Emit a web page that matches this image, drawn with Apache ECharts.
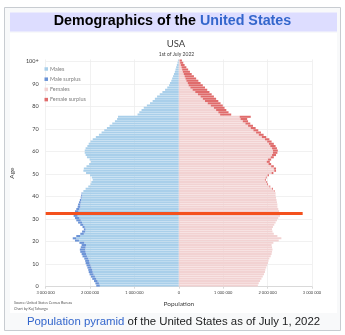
<!DOCTYPE html>
<html><head><meta charset="utf-8">
<script src="https://cdn.jsdelivr.net/npm/echarts@6/dist/echarts.min.js"></script>
<style>html,body{margin:0;padding:0;background:#fff}#c{width:345px;height:335px}</style>
</head><body><div id="c"></div>
<script>
// Age categories 0 .. 100+
const ages = ['0','1','2','3','4','5','6','7','8','9','10','11','12','13','14','15','16','17','18','19',
'20','21','22','23','24','25','26','27','28','29','30','31','32','33','34','35','36','37','38','39',
'40','41','42','43','44','45','46','47','48','49','50','51','52','53','54','55','56','57','58','59',
'60','61','62','63','64','65','66','67','68','69','70','71','72','73','74','75','76','77','78','79',
'80','81','82','83','84','85','86','87','88','89','90','91','92','93','94','95','96','97','98','99','100+'];

// Population by single year of age (persons)
const males = [
1860000,1880000,1910000,1950000,1980000,2010000,2030000,2040000,2060000,2080000,
2100000,2110000,2130000,2170000,2190000,2220000,2230000,2210000,2190000,2240000,
2340000,2390000,2310000,2220000,2180000,2140000,2170000,2220000,2270000,2310000,
2340000,2370000,2380000,2340000,2310000,2280000,2270000,2250000,2230000,2210000,
2200000,2190000,2150000,2100000,2040000,1990000,1970000,1940000,1960000,2000000,
2090000,2150000,2140000,2080000,2020000,1980000,2010000,2070000,2100000,2120000,
2120000,2100000,2060000,2030000,1990000,1940000,1870000,1800000,1740000,1680000,
1620000,1560000,1500000,1440000,1390000,1370000,930000,890000,840000,790000,
720000,650000,590000,540000,490000,430000,370000,310000,260000,220000,
200000,170000,150000,130000,110000,90000,75000,60000,45000,30000,20000];

const females = [
1780000,1800000,1830000,1860000,1890000,1920000,1940000,1950000,1970000,1990000,
2010000,2020000,2040000,2070000,2090000,2100000,2110000,2100000,2090000,2130000,
2250000,2310000,2220000,2140000,2110000,2100000,2120000,2150000,2180000,2210000,
2240000,2280000,2290000,2260000,2240000,2220000,2220000,2210000,2200000,2190000,
2180000,2180000,2160000,2120000,2060000,2010000,1990000,1960000,1980000,2030000,
2130000,2190000,2190000,2140000,2080000,2050000,2080000,2140000,2190000,2220000,
2230000,2210000,2180000,2140000,2090000,2040000,1970000,1910000,1850000,1790000,
1730000,1670000,1610000,1560000,1540000,1620000,1180000,1120000,1070000,1030000,
990000,940000,890000,840000,790000,740000,690000,640000,590000,540000,
490000,440000,390000,340000,290000,250000,210000,170000,130000,100000,70000];

// Tick labels
const xTickValues = [-3000000,-2000000,-1000000,0,1000000,2000000,3000000];
const xTickLabels = ['3 000 000','2 000 000','1 000 000','0','1 000 000','2 000 000','3 000 000'];
const yTickValues = [0,10,20,30,40,50,60,70,80,90,100];
const yTickLabels = ['0','10','20','30','40','50','60','70','80','90','100+'];

// Highlight line (age 32)
const markerAge = '32';
const markerFrom = -3000000;
const markerTo = 2790000;

const common = males.map((m, i) => Math.min(m, females[i]));
const maleBase = common.map(v => -v);
const maleSurplus = males.map((m, i) => -(m - common[i]));
const femaleBase = common.slice();
const femaleSurplus = females.map((f, i) => f - common[i]);

const chart = echarts.init(document.getElementById('c'), null, {renderer: 'canvas'});
const fontUI = 'Lato, "Open Sans", sans-serif';
const fontArial = '"Liberation Sans", Arial, sans-serif';

const barCommon = {type: 'bar', stack: 'pop', yAxisIndex: 0, barCategoryGap: '8%', silent: true};

chart.setOption({
  animation: false,
  graphic: [
    {type: 'rect', z: -20, silent: true, shape: {x: 4.5, y: 7.5, width: 336, height: 323}, style: {fill: '#f8f9fa', stroke: '#c8ccd1', lineWidth: 1}},
    {type: 'rect', z: -19, silent: true, shape: {x: 10, y: 12.5, width: 327, height: 19}, style: {fill: '#ddddff'}},
    {type: 'rect', z: -19, silent: true, shape: {x: 10, y: 33, width: 327, height: 280}, style: {fill: '#ffffff'}}
  ],
  title: [
    {text: '{a|Demographics of the }{b|United States}', left: 'center', top: 13.5, padding: 0,
     textStyle: {rich: {a: {fontFamily: fontArial, fontWeight: 'bold', fontSize: 14.3, color: '#000', lineHeight: 16},
                        b: {fontFamily: fontArial, fontWeight: 'bold', fontSize: 14.3, color: '#3366cc', lineHeight: 16}}}},
    {text: 'USA', left: 176, textAlign: 'center', top: 38.5, padding: 0,
     textStyle: {fontFamily: fontUI, fontSize: 9.5, fontWeight: 'normal', color: '#404040', lineHeight: 11}},
    {text: '1st of July 2022', left: 176.5, textAlign: 'center', top: 51, padding: 0,
     textStyle: {fontFamily: fontUI, fontSize: 5, fontWeight: 'normal', color: '#404040', lineHeight: 6}},
    {text: 'Source: United States Census Bureau\nChart by Kuj Tahunga', left: 14, top: 300.5, padding: 0,
     textStyle: {fontFamily: fontUI, fontSize: 3.6, fontWeight: 'normal', color: '#595959', lineHeight: 5.5}},
    {text: '{a|Population pyramid}{b| of the United States as of July 1, 2022}', left: 173.5, textAlign: 'center', top: 314.5, padding: 0,
     textStyle: {fontWeight: 'normal',
       rich: {a: {fontFamily: fontArial, fontWeight: 'normal', fontSize: 11.4, color: '#3366cc', lineHeight: 14},
              b: {fontFamily: fontArial, fontWeight: 'normal', fontSize: 11.4, color: '#202122', lineHeight: 14}}}}
  ],
  legend: {
    orient: 'vertical', left: 44.5, top: 65.5, padding: 0, itemGap: 3.2,
    itemWidth: 3.5, itemHeight: 3.5, icon: 'rect', selectedMode: false,
    textStyle: {fontFamily: fontUI, fontSize: 5.5, lineHeight: 7, color: '#808080', padding: [0, 0, 0, -3]},
    data: ['Males', 'Male surplus', 'Females', 'Female surplus']
  },
  grid: {left: 39, right: 33, top: 59.4, bottom: 48.3, containLabel: false},
  xAxis: {
    type: 'value', min: xTickValues[0], max: xTickValues[xTickValues.length - 1],
    interval: xTickValues[1] - xTickValues[0],
    axisLine: {show: true, onZero: false, lineStyle: {color: '#d9d9d9', width: 1}},
    axisTick: {show: true, length: 2, lineStyle: {color: '#d9d9d9'}},
    axisLabel: {fontFamily: fontUI, fontSize: 4, color: '#404040', margin: 4,
      formatter: v => { const i = xTickValues.indexOf(v); return i >= 0 ? xTickLabels[i] : ''; }},
    splitLine: {show: true, lineStyle: {color: '#ededed', width: 0.8}},
    name: 'Population', nameLocation: 'middle', nameGap: 14,
    nameTextStyle: {fontFamily: fontUI, fontSize: 6.5, color: '#404040'}
  },
  yAxis: [
    {type: 'category', data: ages, position: 'right', show: false, boundaryGap: true},
    {type: 'value', position: 'left', min: 0, max: 101, interval: 10,
     axisLine: {show: false}, axisTick: {show: false},
     axisLabel: {fontFamily: fontUI, fontSize: 5.5, color: '#404040', margin: 7,
       formatter: v => { const i = yTickValues.indexOf(v); return i >= 0 ? yTickLabels[i] : ''; }},
     splitLine: {show: true, showMaxLine: false, lineStyle: {color: '#ededed', width: 0.8}},
     name: 'Age', nameLocation: 'middle', nameGap: 17, nameRotate: 90,
     nameTextStyle: {fontFamily: fontUI, fontSize: 6.5, color: '#404040'}}
  ],
  series: [
    Object.assign({name: 'Males', data: maleBase, itemStyle: {color: '#a9cfea'}}, barCommon),
    Object.assign({name: 'Male surplus', data: maleSurplus, itemStyle: {color: '#6b93d6'}}, barCommon),
    Object.assign({name: 'Females', data: femaleBase, itemStyle: {color: '#f2d2d2'}}, barCommon),
    Object.assign({name: 'Female surplus', data: femaleSurplus, itemStyle: {color: '#e06c6c'}}, barCommon),
    {type: 'line', name: 'marker', yAxisIndex: 0, data: [], silent: true, z: 5,
     markLine: {silent: true, symbol: ['none', 'none'], animation: false, label: {show: false},
       lineStyle: {color: '#f4511e', width: 3, type: 'solid'},
       data: [[{coord: [markerFrom, markerAge]}, {coord: [markerTo, markerAge]}]]}}
  ]
});
</script></body></html>
